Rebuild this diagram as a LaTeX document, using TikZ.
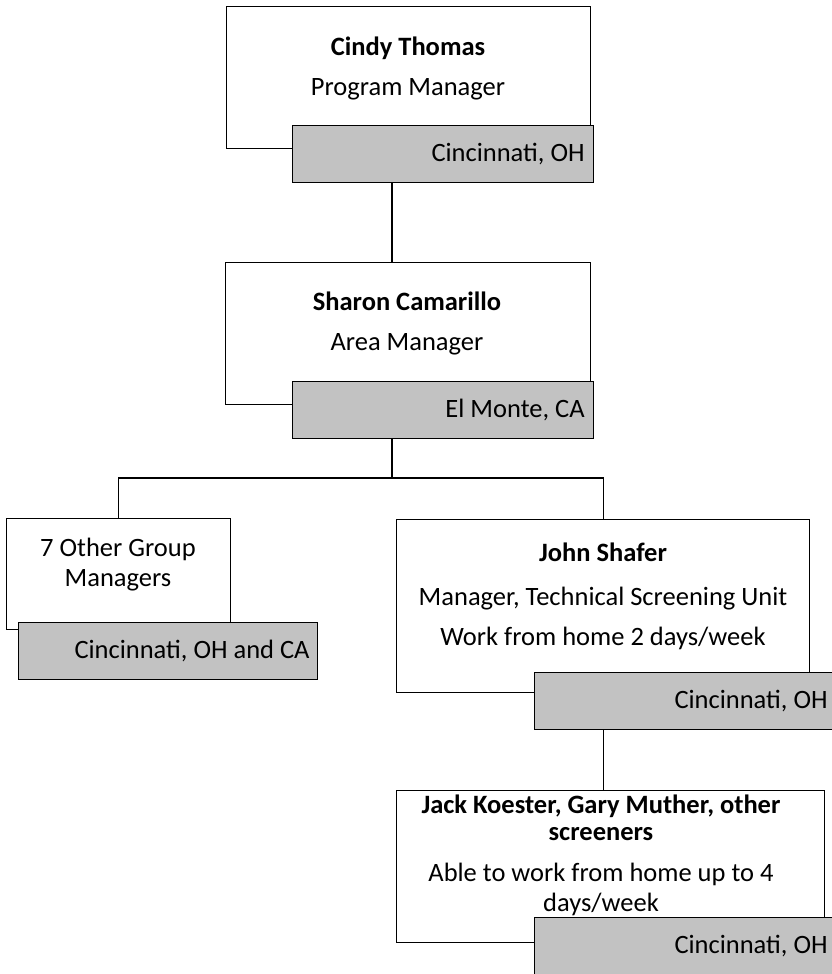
\documentclass[tikz,border=0pt]{standalone}
\usepackage{fontspec}
\setmainfont{Carlito}
\frenchspacing
\tikzset{
    unitbox/.style={draw, line width=1.3pt, fill=white, anchor=north west, inner sep=0pt},
    siteTag/.style={draw, line width=1.3pt, fill=black!24, anchor=north west, align=flush right,
        inner xsep=9pt, inner ysep=0pt, minimum height=57pt, font=\fontsize{26.5}{30}\selectfont},
    person/.style={align=center, inner sep=0pt, anchor=north, font=\fontsize{26.5}{30}\selectfont},
    link/.style={line width=1.3pt}
}

\begin{document}
\begin{tikzpicture}[x=1pt,y=-1pt]
    \useasboundingbox (0,0) rectangle (831,974);

    \node (cindy) [unitbox, minimum width=364pt, minimum height=142pt] at (226,6) {};
    \node (cindyTag) [siteTag, text width=283pt] at (292,125) {Cincinnati, OH};
    \node (cindyText) [person] at (408,37) {\textbf{Cindy Thomas}\\[10pt]Program Manager};

    \node (sharon) [unitbox, minimum width=365pt, minimum height=142pt] at (225,262) {};
    \node (sharonTag) [siteTag, text width=283pt] at (292,381) {El Monte, CA};
    \node (sharonText) [person] at (407,292) {\textbf{Sharon Camarillo}\\[10pt]Area Manager};

    \node (others) [unitbox, minimum width=224pt, minimum height=111pt] at (6,518) {};
    \node (othersTag) [siteTag, text width=283pt, inner xsep=8pt] at (18,622) {Cincinnati, OH and CA};
    \node (othersText) [person] at (118,538) {7 Other Group\\Managers};

    \node (shafer) [unitbox, minimum width=413pt, minimum height=173pt] at (396,519) {};
    \node (shaferTag) [siteTag, text width=284pt] at (534,672) {Cincinnati, OH};
    \node (shaferText) [person] at (603,543)
    {\textbf{John Shafer}\\[14pt]Manager, Technical Screening Unit\\[10pt]Work from home 2 days/week};

    \node (screeners) [unitbox, minimum width=428pt, minimum height=152pt] at (396,790) {};
    \node (screenersTag) [siteTag, text width=284pt] at (534,917) {Cincinnati, OH};
    \node (screenersText) [person] at (601,795)
    {\textbf{Jack Koester, Gary Muther, other}\\[-3pt]\textbf{screeners}\\[11pt]Able to work from home up to 4\\days/week};

    \coordinate (spine) at (392,0);
    \coordinate (fork) at (392,478);

    \draw[link] (spine |- cindyTag.south) -- (spine |- sharon.north);
    \draw[link] (spine |- sharonTag.south) -- (fork);
    \draw[link] (others.north) |- (fork) -| (shafer.north);
    \draw[link] (shafer.south |- shaferTag.south) -- (shafer.south |- screeners.north);
\end{tikzpicture}
\end{document}
